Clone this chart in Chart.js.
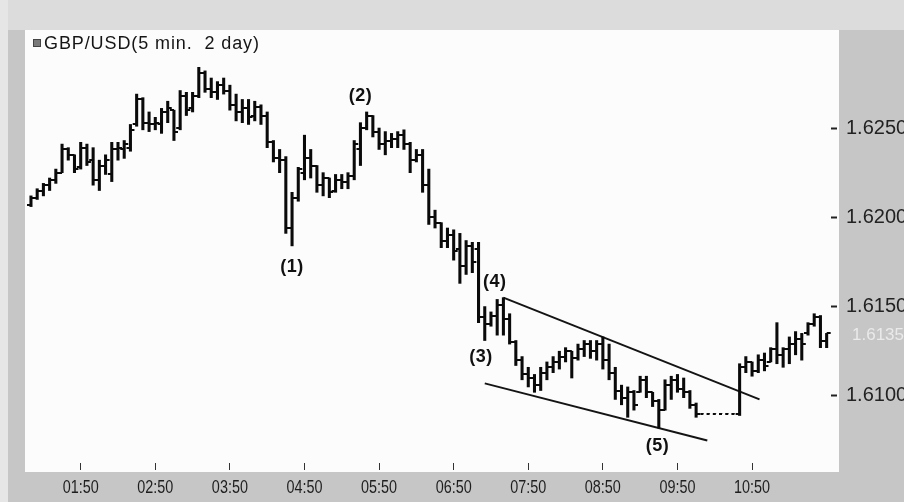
<!DOCTYPE html>
<html>
<head>
<meta charset="utf-8">
<script src="https://cdn.jsdelivr.net/npm/chart.js@4.4.1/dist/chart.umd.min.js"></script>
<style>
  html, body { margin: 0; padding: 0; background: #c9c9c9; }
  #wrap { width: 904px; height: 502px; }
</style>
</head>
<body>
<div id="wrap"><canvas id="chart" width="904" height="502"></canvas></div>
<script>
// GBP/USD 5-minute bars (first bar 01:10)
const open = [
  1.6207,1.6211,1.6215,1.6218,1.6221,1.6225,1.6238,1.6235,1.6228,1.6239,
  1.6232,1.6221,1.6229,1.6224,1.6238,1.6238,1.6239,1.6252,1.6266,1.6253,
  1.6252,1.6252,1.6259,1.6260,1.6250,1.6268,1.6261,1.6268,1.6281,1.6272,
  1.6270,1.6274,1.6271,1.6263,1.6259,1.6261,1.6257,1.6262,1.6257,1.6242,
  1.6233,1.6232,1.6194,1.6211,1.6225,1.6233,1.6229,1.6218,1.6222,1.6215,
  1.6221,1.6220,1.6223,1.6238,1.6250,1.6257,1.6248,1.6241,1.6243,1.6244,
  1.6246,1.6241,1.6232,1.6235,1.6218,1.6200,1.6197,1.6187,1.6190,1.6182,
  1.6173,1.6184,1.6182,1.6144,1.6140,1.6145,1.6151,1.6143,1.6130,1.6120,
  1.6112,1.6110,1.6106,1.6113,1.6116,1.6119,1.6122,1.6125,1.6121,1.6126,
  1.6129,1.6125,1.6129,1.6120,1.6113,1.6103,1.6099,1.6102,1.6102,1.6109,
  1.6102,1.6097,1.6092,1.6106,1.6109,1.6104,1.6102,1.6095,1.6090,1.6090,
  1.6090,1.6090,1.6090,1.6090,1.6090,1.6116,1.6119,1.6114,1.6120,1.6119,
  1.6126,1.6123,1.6126,1.6129,1.6132,1.6135,1.6140,1.6144,1.6131
];
const high = [
  1.6212,1.6216,1.6219,1.6222,1.6227,1.6241,1.6239,1.6235,1.6242,1.6241,
  1.6239,1.6232,1.6235,1.6242,1.6242,1.6243,1.6252,1.6269,1.6267,1.6259,
  1.6256,1.6261,1.6265,1.6260,1.6271,1.6270,1.6270,1.6284,1.6282,1.6278,
  1.6276,1.6278,1.6274,1.6269,1.6266,1.6266,1.6265,1.6263,1.6259,1.6243,
  1.6238,1.6234,1.6214,1.6228,1.6246,1.6238,1.6229,1.6225,1.6222,1.6224,
  1.6224,1.6225,1.6243,1.6253,1.6259,1.6257,1.6250,1.6248,1.6247,1.6248,
  1.6249,1.6242,1.6238,1.6238,1.6227,1.6204,1.6197,1.6194,1.6193,1.6191,
  1.6187,1.6186,1.6186,1.6150,1.6147,1.6154,1.6155,1.6146,1.6131,1.6122,
  1.6116,1.6112,1.6116,1.6119,1.6122,1.6125,1.6127,1.6125,1.6129,1.6131,
  1.6131,1.6131,1.6133,1.6129,1.6116,1.6106,1.6105,1.6103,1.6111,1.6111,
  1.6102,1.6098,1.6109,1.6111,1.6112,1.6110,1.6103,1.6096,1.6090,1.6090,
  1.6090,1.6090,1.6090,1.6090,1.6118,1.6122,1.6119,1.6123,1.6124,1.6127,
  1.6141,1.6127,1.6133,1.6136,1.6135,1.6141,1.6146,1.6145,1.6135
];
const low = [
  1.6206,1.6210,1.6212,1.6215,1.6219,1.6225,1.6232,1.6225,1.6227,1.6229,
  1.6218,1.6215,1.6224,1.6220,1.6232,1.6233,1.6237,1.6251,1.6249,1.6248,
  1.6249,1.6247,1.6253,1.6243,1.6249,1.6257,1.6259,1.6267,1.6270,1.6267,
  1.6266,1.6269,1.6260,1.6254,1.6253,1.6252,1.6254,1.6252,1.6239,1.6231,
  1.6225,1.6191,1.6184,1.6209,1.6221,1.6222,1.6214,1.6212,1.6211,1.6214,
  1.6216,1.6216,1.6221,1.6229,1.6249,1.6245,1.6238,1.6235,1.6239,1.6239,
  1.6238,1.6225,1.6231,1.6214,1.6196,1.6194,1.6183,1.6183,1.6176,1.6163,
  1.6168,1.6169,1.6141,1.6131,1.6139,1.6134,1.6134,1.6129,1.6117,1.6109,
  1.6105,1.6102,1.6103,1.6109,1.6113,1.6115,1.6119,1.6110,1.6120,1.6122,
  1.6121,1.6120,1.6115,1.6109,1.6098,1.6095,1.6088,1.6092,1.6102,1.6099,
  1.6094,1.6082,1.6092,1.6098,1.6102,1.6099,1.6093,1.6088,1.6090,1.6090,
  1.6090,1.6090,1.6090,1.6090,1.6089,1.6113,1.6111,1.6113,1.6114,1.6119,
  1.6118,1.6116,1.6118,1.6123,1.6120,1.6134,1.6139,1.6127,1.6127
];
const close = [
  1.6211,1.6215,1.6218,1.6221,1.6225,1.6238,1.6235,1.6227,1.6239,1.6231,
  1.6221,1.6229,1.6232,1.6238,1.6239,1.6241,1.6249,1.6266,1.6253,1.6252,
  1.6253,1.6259,1.6261,1.6248,1.6268,1.6260,1.6268,1.6281,1.6272,1.6270,
  1.6274,1.6271,1.6263,1.6259,1.6261,1.6256,1.6262,1.6257,1.6242,1.6233,
  1.6232,1.6194,1.6211,1.6227,1.6233,1.6229,1.6218,1.6222,1.6214,1.6221,
  1.6220,1.6223,1.6241,1.6250,1.6257,1.6248,1.6241,1.6243,1.6244,1.6246,
  1.6241,1.6232,1.6235,1.6218,1.6200,1.6197,1.6187,1.6190,1.6181,1.6173,
  1.6184,1.6175,1.6144,1.6140,1.6145,1.6151,1.6143,1.6130,1.6120,1.6112,
  1.6110,1.6106,1.6113,1.6116,1.6119,1.6122,1.6125,1.6121,1.6126,1.6129,
  1.6125,1.6129,1.6120,1.6113,1.6103,1.6099,1.6102,1.6095,1.6109,1.6102,
  1.6097,1.6092,1.6106,1.6109,1.6104,1.6102,1.6095,1.6090,1.6090,1.6090,
  1.6090,1.6090,1.6090,1.6090,1.6116,1.6119,1.6114,1.6120,1.6117,1.6126,
  1.6123,1.6126,1.6129,1.6132,1.6129,1.6140,1.6144,1.6131,1.6135
];

// bar times in minutes after midnight, one bar every 5 minutes from 01:10
const firstBarMinute = 70;
const barMinutes = open.map((_, i) => firstBarMinute + 5 * i);

// axis ticks
const timeTickMinutes = [110, 170, 230, 290, 350, 410, 470, 530, 590, 650];
const timeTickLabels = ['01:50', '02:50', '03:50', '04:50', '05:50', '06:50', '07:50', '08:50', '09:50', '10:50'];
const priceTicks = [1.6100, 1.6150, 1.6200, 1.6250];

// wedge trend lines (minute, price)
const upperLineX = [450, 656];
const upperLineY = [1.6155, 1.6098];
const lowerLineX = [435, 614];
const lowerLineY = [1.6107, 1.6075];

// Elliott wave counts
const waveLabels = ['(1)', '(2)', '(3)', '(4)', '(5)'];
const waveX = [280, 335, 432, 443, 574];
const waveY = [1.6172, 1.6268, 1.6122, 1.6164, 1.6072];

const titleText = 'GBP/USD(5 min.  2 day)';

// small canvases used as point styles: open tick (left), close tick (right)
// and a short dash for bars where nothing traded
function makeMark(x, w) {
    const c = document.createElement('canvas');
    c.width = 10;
    c.height = 2;
    const g = c.getContext('2d');
    g.fillStyle = '#0a0a0a';
    g.fillRect(x, 0, w, 2);
    return c;
}
const openTick = makeMark(1, 4);
const closeTick = makeMark(5, 4);
const flatDash = makeMark(3, 3);
const noMark = makeMark(0, 0);

const isFlat = i => high[i] === low[i];

// backgrounds and text overlays
const decorPlugin = {
    id: 'decor',
    beforeDraw(chart) {
        const ctx = chart.ctx;
        ctx.save();
        ctx.fillStyle = '#c6c6c6';
        ctx.fillRect(0, 0, 904, 502);
        ctx.fillStyle = '#dcdcdc';
        ctx.fillRect(0, 0, 904, 30);
        ctx.fillStyle = '#e6e6e6';
        ctx.fillRect(0, 0, 8, 502);
        ctx.fillStyle = '#fcfcfc';
        ctx.fillRect(25, 30, 814, 442);
        ctx.restore();
    },
    afterDraw(chart) {
        const ctx = chart.ctx;
        const xs = chart.scales.x;
        const ys = chart.scales.y;
        ctx.save();

        // title with small square marker
        ctx.fillStyle = '#7a7a7a';
        ctx.fillRect(33, 39, 8, 8);
        ctx.strokeStyle = '#444';
        ctx.lineWidth = 1;
        ctx.strokeRect(33.5, 39.5, 7, 7);
        ctx.fillStyle = '#151515';
        ctx.font = '18px "Liberation Sans", Arial, sans-serif';
        ctx.textBaseline = 'middle';
        ctx.textAlign = 'left';
        if ('letterSpacing' in ctx) ctx.letterSpacing = '0.9px';
        ctx.fillText(titleText, 44, 44);

        // wave labels
        ctx.font = 'bold 18px "Liberation Sans", Arial, sans-serif';
        if ('letterSpacing' in ctx) ctx.letterSpacing = '0.5px';
        ctx.textAlign = 'center';
        ctx.fillStyle = '#111';
        waveLabels.forEach((t, i) => {
            ctx.fillText(t, xs.getPixelForValue(waveX[i]), ys.getPixelForValue(waveY[i]));
        });
        if ('letterSpacing' in ctx) ctx.letterSpacing = '0px';

        // time labels, narrow like the original
        ctx.font = '18px "Liberation Sans", Arial, sans-serif';
        ctx.fillStyle = '#1e1e1e';
        timeTickMinutes.forEach((m, i) => {
            ctx.save();
            ctx.translate(xs.getPixelForValue(m), 488);
            ctx.scale(0.8, 1);
            ctx.fillText(timeTickLabels[i], 0, 0);
            ctx.restore();
        });

        // last price, faint on the axis
        const last = close[close.length - 1];
        ctx.font = '17px "Liberation Sans", Arial, sans-serif';
        ctx.textAlign = 'left';
        ctx.fillStyle = 'rgba(240,240,240,0.85)';
        ctx.fillText(last.toFixed(4), 852, ys.getPixelForValue(last) + 2);
        ctx.restore();
    }
};

const ctx = document.getElementById('chart').getContext('2d');

new Chart(ctx, {
    type: 'bar',
    data: {
        datasets: [
            {
                type: 'bar',
                data: barMinutes.map((m, i) => ({ x: m, y: [low[i], high[i]] })),
                backgroundColor: '#0a0a0a',
                borderWidth: 0,
                barThickness: 2.4,
                grouped: false
            },
            {
                type: 'line',
                data: barMinutes.map((m, i) => ({ x: m, y: open[i] })),
                showLine: false,
                pointStyle: c => (isFlat(c.dataIndex) ? flatDash : openTick),
                pointRadius: 3
            },
            {
                type: 'line',
                data: barMinutes.map((m, i) => ({ x: m, y: close[i] })),
                showLine: false,
                pointStyle: c => (isFlat(c.dataIndex) ? noMark : closeTick),
                pointRadius: 3
            },
            {
                type: 'line',
                data: upperLineX.map((x, i) => ({ x: x, y: upperLineY[i] })),
                borderColor: '#141414',
                borderWidth: 2,
                pointRadius: 0
            },
            {
                type: 'line',
                data: lowerLineX.map((x, i) => ({ x: x, y: lowerLineY[i] })),
                borderColor: '#141414',
                borderWidth: 2,
                pointRadius: 0
            }
        ]
    },
    options: {
        responsive: false,
        animation: false,
        events: [],
        layout: { padding: { left: 25, top: 30, right: 0, bottom: 0 } },
        plugins: {
            legend: { display: false },
            tooltip: { enabled: false }
        },
        scales: {
            x: {
                type: 'linear',
                min: 65.2,
                max: 713.5,
                offset: false,
                grid: {
                    offset: false,
                    drawOnChartArea: false,
                    drawTicks: true,
                    tickLength: 7,
                    tickWidth: 1,
                    tickColor: '#333'
                },
                border: { display: false },
                ticks: { display: false, autoSkip: false },
                afterBuildTicks: s => { s.ticks = timeTickMinutes.map(v => ({ value: v })); },
                afterFit: s => { s.height = 39; }
            },
            y: {
                position: 'right',
                min: 1.60624,
                max: 1.63049,
                grid: {
                    drawOnChartArea: false,
                    drawTicks: true,
                    tickLength: 6,
                    tickWidth: 2,
                    tickColor: '#222'
                },
                border: { display: false },
                ticks: {
                    padding: 9,
                    color: '#222',
                    font: { family: '"Liberation Sans", Arial, sans-serif', size: 20 },
                    callback: v => Number(v).toFixed(4)
                },
                afterBuildTicks: s => { s.ticks = priceTicks.map(v => ({ value: v })); },
                afterFit: s => { s.width = 73; }
            }
        }
    },
    plugins: [decorPlugin]
});
</script>
</body>
</html>
